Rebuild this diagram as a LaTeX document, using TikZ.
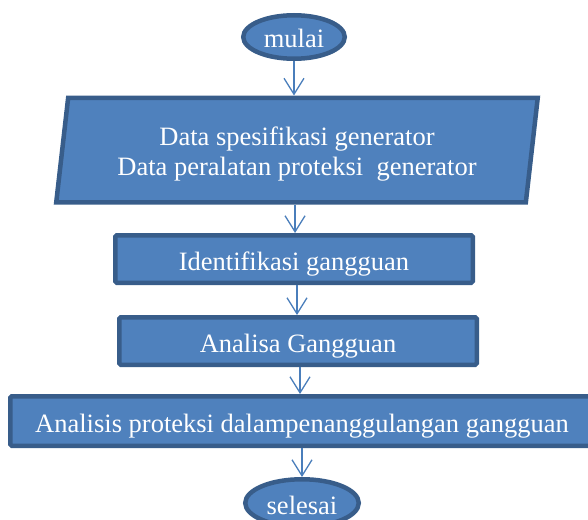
\documentclass[tikz,border=0pt]{standalone}
\usepackage{fontspec}
\setmainfont{Liberation Serif}
\usetikzlibrary{shapes.geometric}
\usetikzlibrary{arrows.meta}
\definecolor{boxfill}{HTML}{4F81BD}
\definecolor{boxline}{HTML}{385D8A}
\definecolor{arrowline}{HTML}{4A7EBB}
\tikzset{
  flownode/.style={draw=boxline,fill=boxfill,line width=4.5pt,text=white,
    font=\fontsize{26.5}{30}\selectfont,inner sep=0pt,text height=22pt,text depth=0pt},
  terminal/.style={flownode,ellipse},
  process/.style={flownode,rectangle,rounded corners=1.5pt},
  io/.style={flownode,trapezium,trapezium left angle=76.6,trapezium right angle=103.4,
    trapezium stretches body,align=center,text height=50pt,text depth=0pt},
  flowline/.style={draw=arrowline,line width=1.3pt,-{Straight Barb[length=16pt,width=20pt]}}}

\begin{document}
\begin{tikzpicture}[x=1pt,y=-1pt]
  \useasboundingbox (0,0) rectangle (588,519);
  \node [terminal,minimum width=101.5pt,minimum height=43.5pt] (mulai) at (294,37) {mulai};
  \node [io,minimum width=481.5pt,minimum height=104.5pt] (data) at (297,150)
    {Data spesifikasi generator\\Data peralatan proteksi\ \ generator};
  \node [process,minimum width=357.5pt,minimum height=47.5pt] (identifikasi) at (294,259) {Identifikasi gangguan};
  \node [process,minimum width=357.5pt,minimum height=47.5pt] (analisa) at (298,341) {Analisa Gangguan};
  \node [process,minimum width=583.5pt,minimum height=49.5pt] (analisis) at (302,421)
    {Analisis proteksi dalampenanggulangan gangguan};
  \node [terminal,minimum width=113.5pt,minimum height=47.5pt] (selesai) at (302,503) {selesai};
  \draw [flowline] (mulai.south) -- (mulai.south |- data.north);
  \draw [flowline] ([xshift=-2pt]data.south) -- ([xshift=-2pt]data.south |- identifikasi.north);
  \draw [flowline] ([xshift=3pt]identifikasi.south) -- ([xshift=3pt]identifikasi.south |- analisa.north);
  \draw [flowline] ([xshift=2pt]analisa.south) -- ([xshift=2pt]analisa.south |- analisis.north);
  \draw [flowline] (analisis.south) -- (analisis.south |- selesai.north);
\end{tikzpicture}
\end{document}
